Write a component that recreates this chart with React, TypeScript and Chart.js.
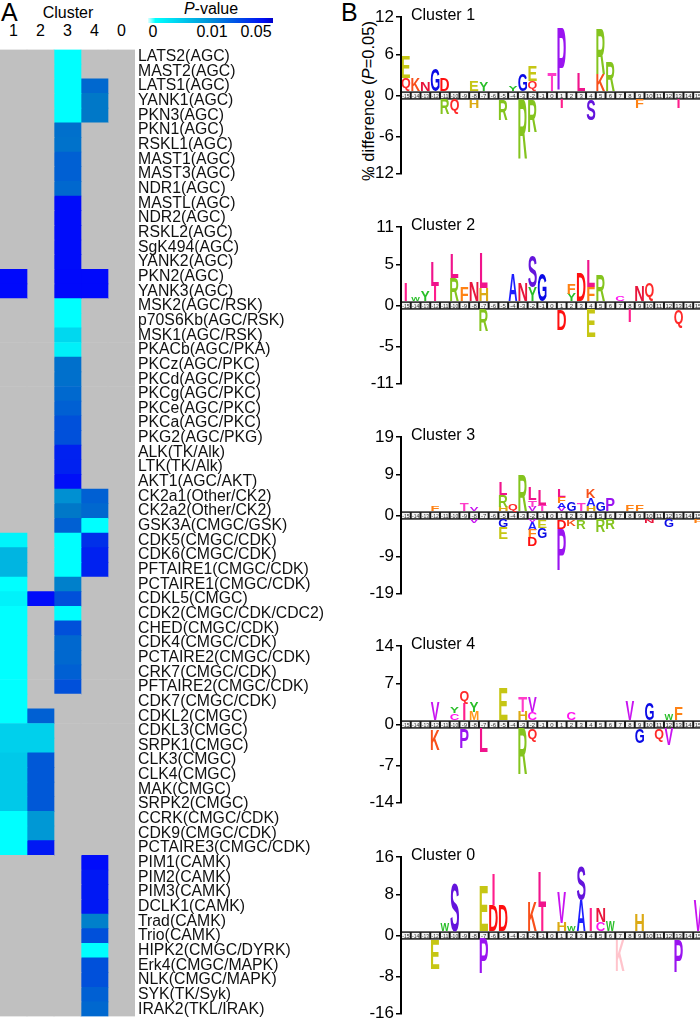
import React, { useEffect, useRef } from 'react';
import { Chart, registerables } from 'chart.js';
Chart.register(...registerables);

const FONT = "'Liberation Sans', Arial, sans-serif";
const _ = null;

// ---------- Panel A data ----------
const kinases = [
  'LATS2(AGC)', 'MAST2(AGC)', 'LATS1(AGC)', 'YANK1(AGC)', 'PKN3(AGC)', 'PKN1(AGC)', 'RSKL1(AGC)', 'MAST1(AGC)', 'MAST3(AGC)', 'NDR1(AGC)',
  'MASTL(AGC)', 'NDR2(AGC)', 'RSKL2(AGC)', 'SgK494(AGC)', 'YANK2(AGC)', 'PKN2(AGC)', 'YANK3(AGC)', 'MSK2(AGC/RSK)', 'p70S6Kb(AGC/RSK)', 'MSK1(AGC/RSK)',
  'PKACb(AGC/PKA)', 'PKCz(AGC/PKC)', 'PKCd(AGC/PKC)', 'PKCg(AGC/PKC)', 'PKCe(AGC/PKC)', 'PKCa(AGC/PKC)', 'PKG2(AGC/PKG)', 'ALK(TK/Alk)', 'LTK(TK/Alk)', 'AKT1(AGC/AKT)',
  'CK2a1(Other/CK2)', 'CK2a2(Other/CK2)', 'GSK3A(CMGC/GSK)', 'CDK5(CMGC/CDK)', 'CDK6(CMGC/CDK)', 'PFTAIRE1(CMGC/CDK)', 'PCTAIRE1(CMGC/CDK)', 'CDKL5(CMGC)', 'CDK2(CMGC/CDK/CDC2)', 'CHED(CMGC/CDK)',
  'CDK4(CMGC/CDK)', 'PCTAIRE2(CMGC/CDK)', 'CRK7(CMGC/CDK)', 'PFTAIRE2(CMGC/CDK)', 'CDK7(CMGC/CDK)', 'CDKL2(CMGC)', 'CDKL3(CMGC)', 'SRPK1(CMGC)', 'CLK3(CMGC)', 'CLK4(CMGC)',
  'MAK(CMGC)', 'SRPK2(CMGC)', 'CCRK(CMGC/CDK)', 'CDK9(CMGC/CDK)', 'PCTAIRE3(CMGC/CDK)', 'PIM1(CAMK)', 'PIM2(CAMK)', 'PIM3(CAMK)', 'DCLK1(CAMK)', 'Trad(CAMK)',
  'Trio(CAMK)', 'HIPK2(CMGC/DYRK)', 'Erk4(CMGC/MAPK)', 'NLK(CMGC/MAPK)', 'SYK(TK/Syk)', 'IRAK2(TKL/IRAK)',
];

const clusterNames = ['1', '2', '3', '4', '0'];

const pCluster1 = [
  _, _, _, _, _, _, _, _, _, _,
  _, _, _, _, _, 0.047, 0.047, _, _, _,
  _, _, _, _, _, _, _, _, _, _,
  _, _, _, 0.0008, 0.0055, 0.0055, 0, 0.001, 0, 0,
  0, 0, 0, 0, 0, 0, 0.0035, 0.0035, 0.004, 0.004,
  0.004, 0.004, 0, 0, 0, _, _, _, _, _,
  _, _, _, _, _, _,
];
const pCluster2 = [
  _, _, _, _, _, _, _, _, _, _,
  _, _, _, _, _, _, _, _, _, _,
  _, _, _, _, _, _, _, _, _, _,
  _, _, _, _, _, _, _, 0.046, _, _,
  _, _, _, _, _, 0.018, 0.0035, 0.0035, 0.0207, 0.0207,
  0.0207, 0.0207, 0.0076, 0.0076, 0.042, _, _, _, _, _,
  _, _, _, _, _, _,
];
const pCluster3 = [
  0, 0, 0, 0, 0, 0.0127, 0.012, 0.018, 0.018, 0.0153,
  0.046, 0.046, 0.046, 0.046, 0.046, 0.047, 0.047, 0, 0, 0.0029,
  0.0011, 0.0127, 0.0127, 0.015, 0.018, 0.0233, 0.0233, 0.039, 0.039, 0.045,
  0.0082, 0.01, 0.018, 0, 0, 0, 0.0094, 0.0233, 0, 0.0233,
  0.0153, 0.0153, 0.018, 0.0233, _, _, _, _, _, _,
  _, _, _, _, _, _, _, _, _, _,
  _, _, _, _, _, _,
];
const pCluster4 = [
  _, _, 0.0153, 0.01, 0.01, _, _, _, _, _,
  _, _, _, _, _, 0.047, 0.047, _, _, _,
  _, _, _, _, _, _, _, _, _, _,
  0.018, 0.0153, 0, 0.034, 0.039, 0.039, _, _, _, _,
  _, _, _, _, _, _, _, _, _, _,
  _, _, _, _, _, 0.046, 0.042, 0.042, 0.042, 0.0094,
  0.0233, 0, 0.0233, 0.0233, 0.018, 0.0153,
];
const pCluster0 = [
  _, _, _, _, _, _, _, _, _, _,
  _, _, _, _, _, _, _, _, _, _,
  _, _, _, _, _, _, _, _, _, _,
  _, _, _, _, _, _, _, _, _, _,
  _, _, _, _, _, _, _, _, _, _,
  _, _, _, _, _, _, _, _, _, _,
  _, _, _, _, _, _,
];
const pValueTickLabels = ['0', '0.01', '0.05'];

// ---------- Panel B data ----------
type Entry = [number, string, number, string?];
const positions = [-15, -14, -13, -12, -11, -10, -9, -8, -7, -6, -5, -4, -3, -2, -1, 0, 1, 2, 3, 4, 5, 6, 7, 8, 9, 10, 11, 12, 13, 14, 15];

const logoTicks1 = [12, 6, 0, -6, -12];
const logoTicks2 = [10.7, 5.35, 0, -5.35, -10.7];
const logoTicks3 = [18.6, 9.3, 0, -9.3, -18.6];
const logoTicks4 = [14, 7, 0, -7, -14];
const logoTicks0 = [16, 8, 0, -8, -16];

const logo1: Entry[] = [
  [-15, 'Q', 2.1], [-15, 'E', 3.5], [-14, 'K', 2.1], [-13, 'N', 1.5], [-12, 'G', 3.5],
  [-11, 'D', 2.1], [-11, 'R', -2.4], [-10, 'Q', -2.4], [-8, 'E', 1.7], [-8, 'H', -1.3],
  [-7, 'Y', 1.4], [-5, 'R', -3.3], [-4, 'Y', 0.9], [-3, 'G', 2.8], [-3, 'R', -9.5],
  [-2, 'Q', 1.7], [-2, 'E', 2.5], [-2, 'R', -5.2], [0, 'T', 3.0], [1, 'P', 10.0], [1, 'I', -1.4],
  [3, 'L', 2.8], [4, 'S', -3.3], [5, 'K', 2.8], [5, 'R', 7.3], [6, 'R', 4.8], [9, 'F', -1.4], [13, 'I', -1.4],
];
const logo2: Entry[] = [
  [-15, 'I', 2.65], [-14, 'W', 0.5], [-13, 'Y', 1.4], [-12, 'I', 2.2], [-12, 'L', 3.4],
  [-10, 'R', 3.3], [-10, 'L', 3.4], [-9, 'F', 2.0], [-8, 'N', 2.8],
  [-7, 'H', 1.9], [-7, 'L', 5.0], [-7, 'R', -3.1], [-4, 'A', 4.0], [-3, 'N', 2.6],
  [-2, 'Y', 2.0], [-2, 'S', 4.6], [-1, 'G', 4.0], [1, 'D', -3.0], [2, 'Y', 1.0], [2, 'F', 1.5],
  [3, 'D', 4.0], [4, 'F', 2.0], [4, 'L', 3.9], [4, 'E', -4.0], [5, 'R', 3.6], [7, 'C', 0.8],
  [8, 'I', -1.8], [9, 'N', 2.3], [10, 'Q', 2.6], [13, 'Q', -2.7],
];
const logo3: Entry[] = [
  [-12, 'F', 1.4], [-9, 'T', 2.0], [-8, 'V', 0.8], [-8, 'V', -0.9],
  [-5, 'H', 1.2], [-5, 'R', 2.9], [-5, 'L', 3.2], [-5, 'G', -1.8], [-5, 'E', -3.0],
  [-4, 'Q', 2.0], [-3, 'R', 9.1],
  [-2, 'V', 1.2], [-2, 'T', 1.6], [-2, 'L', 3.1], [-2, 'V', -0.6], [-2, 'A', -1.9], [-2, 'F', -1.9], [-2, 'D', -2.2],
  [-1, 'T', 1.5], [-1, 'L', 3.9], [-1, 'E', -2.0], [-1, 'G', -2.6],
  [1, 'V', 0.8], [1, 'A', 1.2], [1, 'F', 1.6], [1, 'L', 2.0], [1, 'D', -2.3], [1, 'P', -10.4],
  [2, 'G', 2.2], [2, 'K', -1.7], [3, 'T', 1.9], [3, 'R', -2.3],
  [4, 'H', 1.4], [4, 'A', 2.0], [4, 'K', 2.2], [5, 'G', 2.2], [5, 'R', -3.2],
  [6, 'P', 3.2], [6, 'R', -2.4], [8, 'F', 1.6], [9, 'F', 1.6], [10, 'N', -0.9], [12, 'G', -1.8], [15, 'F', -0.9],
];
const logo4: Entry[] = [
  [-12, 'V', 3.4], [-12, 'K', -4.0], [-10, 'C', 1.3], [-10, 'Y', 1.3],
  [-9, 'I', 3.1], [-9, 'Q', 2.6], [-9, 'P', -3.7], [-8, 'M', 1.6], [-8, 'Y', 1.9],
  [-7, 'L', -4.5], [-5, 'E', 6.0], [-3, 'H', 1.6], [-3, 'T', 2.8], [-3, 'R', -8.6],
  [-2, 'C', 1.5], [-2, 'V', 2.8], [-2, 'Q', -2.4], [2, 'C', 1.5], [8, 'V', 3.5],
  [9, 'G', -2.7], [10, 'G', 3.3], [11, 'Q', -2.4], [12, 'W', 1.2], [12, 'V', -3.1], [13, 'F', 2.4],
];
const logo0: Entry[] = [
  [-12, 'E', -6.4], [-11, 'W', 1.7], [-10, 'S', 10.4], [-7, 'E', 9.7], [-7, 'P', -7.4],
  [-6, 'D', 5.6], [-6, 'I', 6.7], [-5, 'D', 5.6], [-2, 'K', 6.3], [-1, 'I', 5.2], [-1, 'L', 7.5],
  [1, 'H', 1.9], [1, 'V', 6.6], [2, 'W', 1.0], [3, 'A', 6.6], [3, 'S', 7.5], [4, 'I', 4.9],
  [5, 'C', 2.1], [5, 'N', 3.0], [6, 'W', 2.1], [7, 'K', -6.7, '#ffc4cc'], [9, 'H', 3.5],
  [13, 'P', -7.1], [15, 'V', 6.6],
];

const aaColors: Record<string, string> = {
  E: '#c6c614', Q: '#ff2a2a', K: '#f8501a', N: '#e8163c', G: '#0a0ae6', D: '#ff1010',
  R: '#84c41e', H: '#dcaa14', Y: '#28be28', T: '#ff3cc8', P: '#9a14f0', I: '#ff1e8c',
  L: '#f0148c', S: '#6414dc', F: '#ff8214', W: '#28be28', A: '#1e1eff', V: '#c814f0',
  C: '#ff14f0', M: '#ff9a1e',
};

function pColor(p: number | null): string {
  if (p === null || p === undefined) return '#c0c0c0';
  let g: number;
  let b: number;
  if (p <= 0.01) {
    const t = p / 0.01;
    g = 255 - t * 135;
    b = 255 - t * 55;
  } else {
    const t = Math.min(1, (p - 0.01) / 0.04);
    g = 120 * (1 - t);
    b = 200 + 55 * t;
  }
  return `rgb(0,${Math.round(g)},${Math.round(b)})`;
}

function Heatmap() {
  const ref = useRef<HTMLCanvasElement>(null);
  useEffect(() => {
    const cols = [pCluster1, pCluster2, pCluster3, pCluster4, pCluster0];
    const chart = new Chart(ref.current as HTMLCanvasElement, {
      type: 'bar',
      data: {
        labels: kinases,
        datasets: cols.map((col, c) => ({
          label: 'Cluster ' + clusterNames[c],
          data: col.map(() => [c, c + 1]),
          backgroundColor: col.map((p) => pColor(p as any)),
          borderWidth: 0,
          categoryPercentage: 1,
          barPercentage: 1,
          grouped: false,
        })) as any,
      },
      options: {
        indexAxis: 'y',
        animation: false,
        responsive: false,
        layout: { padding: 0 },
        plugins: { legend: { display: false }, tooltip: { enabled: false } },
        scales: {
          x: { display: false, min: 0, max: 5 },
          y: {
            position: 'right',
            grid: { display: false, drawTicks: false },
            border: { display: false },
            ticks: { autoSkip: false, padding: 3, color: '#111', font: { family: FONT, size: 15.8 } },
            afterFit: (s: any) => { s.width = 205; },
          },
        },
      } as any,
    });
    return () => chart.destroy();
  }, []);
  return <canvas ref={ref} width={340} height={992} style={{ position: 'absolute', left: 0, top: 37 }} />;
}

function drawLetter(ctx: CanvasRenderingContext2D, ch: string, color: string, x: number, y: number, w: number, h: number) {
  if (h < 0.5) return;
  ctx.save();
  ctx.font = `bold 100px ${FONT}`;
  ctx.textAlign = 'left';
  ctx.textBaseline = 'alphabetic';
  const ref = ctx.measureText('H');
  const refW = ref.actualBoundingBoxLeft + ref.actualBoundingBoxRight;
  const m = ctx.measureText(ch);
  const gw = m.actualBoundingBoxLeft + m.actualBoundingBoxRight;
  const gh = m.actualBoundingBoxAscent + m.actualBoundingBoxDescent;
  const sx = Math.min(w / gw, w / refW);
  const drawnW = gw * sx;
  ctx.translate(x + (w - drawnW) / 2, y);
  ctx.scale(sx, h / gh);
  ctx.fillStyle = color;
  ctx.fillText(ch, m.actualBoundingBoxLeft, m.actualBoundingBoxAscent);
  ctx.restore();
}

function LogoPlot({ entries, ticks, top }: { entries: Entry[]; ticks: number[]; top: number }) {
  const ref = useRef<HTMLCanvasElement>(null);
  useEffect(() => {
    const ymax = ticks[0];
    const b = ymax * 0.056;
    const shift = (v: number) => (v > 0 ? v + b : v < 0 ? v - b : 0);
    const unshift = (v: number) => (v > b / 2 ? v - b : v < -b / 2 ? v + b : 0);
    const plugin = {
      id: 'logoLetters',
      beforeDatasetsDraw(chart: any) {
        const { ctx, chartArea, scales } = chart;
        const xs = scales.x;
        const ys = scales.y;
        const yT = ys.getPixelForValue(b);
        const yB = ys.getPixelForValue(-b);
        ctx.save();
        ctx.fillStyle = '#1a1a1a';
        ctx.fillRect(chartArea.left, yT, chartArea.right - chartArea.left, yB - yT);
        ctx.font = `6px ${FONT}`;
        ctx.textAlign = 'center';
        ctx.textBaseline = 'middle';
        for (const p of positions) {
          const x0 = xs.getPixelForValue(p - 0.5);
          const x1 = xs.getPixelForValue(p + 0.5);
          ctx.fillStyle = '#f4f4f4';
          ctx.fillRect(x0 + 1, yT + 1.5, x1 - x0 - 2, yB - yT - 3);
          ctx.fillStyle = '#333';
          const label = String(p);
          const w = ctx.measureText(label).width;
          const maxW = x1 - x0 - 2.5;
          ctx.save();
          ctx.translate((x0 + x1) / 2, (yT + yB) / 2 + 0.5);
          if (w > maxW) ctx.scale(maxW / w, 1);
          ctx.fillText(label, 0, 0);
          ctx.restore();
        }
        ctx.restore();
      },
      afterDatasetsDraw(chart: any) {
        const { ctx, scales } = chart;
        const xs = scales.x;
        const ys = scales.y;
        const up: Record<number, number> = {};
        const down: Record<number, number> = {};
        for (const [pos, ch, v, col] of entries) {
          const acc = v >= 0 ? (up[pos] ?? b) : (down[pos] ?? -b);
          const next = acc + v;
          if (v >= 0) up[pos] = next; else down[pos] = next;
          const yA = ys.getPixelForValue(acc);
          const yN = ys.getPixelForValue(next);
          const x0 = xs.getPixelForValue(pos - 0.45);
          const x1 = xs.getPixelForValue(pos + 0.45);
          drawLetter(ctx, ch, col ?? aaColors[ch] ?? '#000', x0, Math.min(yA, yN), x1 - x0, Math.abs(yN - yA));
        }
      },
    };
    const chart = new Chart(ref.current as HTMLCanvasElement, {
      type: 'scatter',
      data: {
        datasets: [{
          data: entries.map((e) => ({ x: e[0], y: e[2] })),
          pointRadius: 0,
          pointHoverRadius: 0,
        }],
      },
      options: {
        animation: false,
        responsive: false,
        layout: { padding: { top: 10, bottom: 10, left: 0, right: 0 } },
        plugins: { legend: { display: false }, tooltip: { enabled: false } },
        scales: {
          x: { type: 'linear', display: false, min: -15.5, max: 15.2 },
          y: {
            type: 'linear',
            min: -(ymax + b),
            max: ymax + b,
            afterBuildTicks: (s: any) => { s.ticks = ticks.map((v) => ({ value: shift(v) })); },
            grid: { drawOnChartArea: false, drawTicks: true, tickLength: 5, color: '#000', lineWidth: 1.5 },
            border: { display: true, color: '#000', width: 2, z: 1 },
            ticks: {
              color: '#000',
              padding: 2,
              font: { family: FONT, size: 17 },
              callback: (val: any) => String(Math.round(unshift(Number(val)))),
            },
            afterFit: (s: any) => { s.width = 61; },
          },
        },
      } as any,
      plugins: [plugin],
    });
    return () => chart.destroy();
  }, []);
  return <canvas ref={ref} width={360} height={181} style={{ position: 'absolute', left: 340, top: top - 10 }} />;
}

const txt = (extra: React.CSSProperties): React.CSSProperties => ({
  position: 'absolute', fontFamily: FONT, lineHeight: 1, whiteSpace: 'nowrap', color: '#000', ...extra,
});

export default function App() {
  const colCenters = [13.5, 40.5, 67.5, 94.5, 121.5];
  const pvPos = [153, 212, 256];
  const plots: [string, Entry[], number[], number][] = [
    ['Cluster 1', logo1, logoTicks1, 15],
    ['Cluster 2', logo2, logoTicks2, 225],
    ['Cluster 3', logo3, logoTicks3, 435],
    ['Cluster 4', logo4, logoTicks4, 644],
    ['Cluster 0', logo0, logoTicks0, 855],
  ];
  return (
    <div style={{ position: 'absolute', left: 0, top: 0, width: 700, height: 1029, overflow: 'hidden', background: '#fff' }}>
      <div style={txt({ left: 1, top: 0, fontSize: 25 })}>A</div>
      <div style={txt({ left: 68, top: 5, fontSize: 16, transform: 'translateX(-50%)' })}>Cluster</div>
      {clusterNames.map((n, i) => (
        <div key={n} style={txt({ left: colCenters[i], top: 23, fontSize: 16, transform: 'translateX(-50%)' })}>{n}</div>
      ))}
      <div style={txt({ left: 211, top: 1, fontSize: 16, transform: 'translateX(-50%)' })}><i>P</i>-value</div>
      <div style={{ position: 'absolute', left: 148, top: 18, width: 125, height: 5, background: 'linear-gradient(to right, #e0ffff 0%, #00ffff 6%, #0090d8 50%, #0010f4 92%, #0000c8 100%)' }} />
      {pValueTickLabels.map((t, i) => (
        <div key={t} style={txt({ left: pvPos[i], top: 24, fontSize: 16, transform: 'translateX(-50%)' })}>{t}</div>
      ))}
      <Heatmap />

      <div style={txt({ left: 341, top: 0, fontSize: 25 })}>B</div>
      <div style={txt({ left: 368, top: 101, fontSize: 16.5, transform: 'translate(-50%, -50%) rotate(-90deg)' })}>% difference (<i>P</i>=0.05)</div>
      {plots.map(([title, entries, ticks, top]) => (
        <React.Fragment key={title}>
          <LogoPlot entries={entries} ticks={ticks} top={top} />
          <div style={txt({ left: 411, top: top - 8, fontSize: 16 })}>{title}</div>
        </React.Fragment>
      ))}
    </div>
  );
}
